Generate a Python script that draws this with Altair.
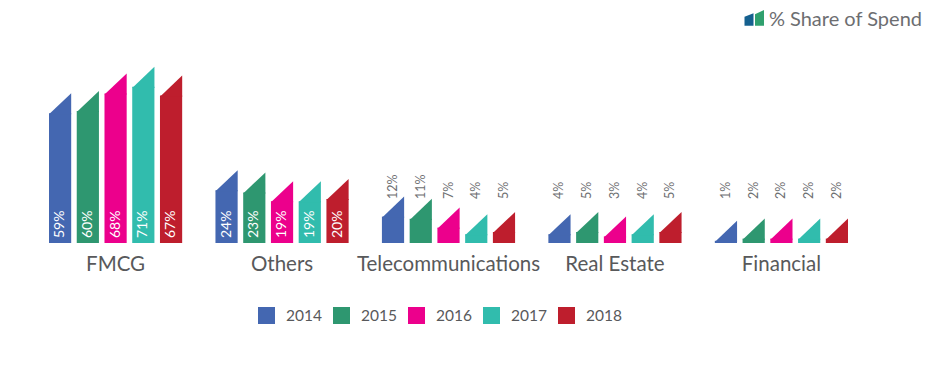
import altair as alt
import pandas as pd

categories = ["FMCG", "Others", "Telecommunications", "Real Estate", "Financial"]
years = ["2014", "2015", "2016", "2017", "2018"]
fmcg = [59, 60, 68, 71, 67]
others = [24, 23, 19, 19, 20]
telecom = [12, 11, 7, 4, 5]
real_estate = [4, 5, 3, 4, 5]
financial = [1, 2, 2, 2, 2]
colors = ["#4467B1", "#2E9770", "#EC008C", "#31BCAD", "#BE1E2D"]
title_text = "% Share of Spend"

series = [fmcg, others, telecom, real_estate, financial]
rows = []
for cat, vals in zip(categories, series):
    for yr, v in zip(years, vals):
        rows.append({"category": cat, "year": yr, "value": v, "label": f"{v}%"})
df = pd.DataFrame(rows)

FONT = "Lato"
GRAY = "#58595b"

base = alt.Chart(df).encode(
    x=alt.X("category:N", sort=categories,
            scale=alt.Scale(paddingInner=0.2, paddingOuter=0),
            axis=alt.Axis(title=None, labelAngle=0, ticks=False, domain=False,
                          labelFont=FONT, labelFontSize=20.5, labelColor=GRAY,
                          labelPadding=11, labelLimit=0, labelOverlap=False)),
    xOffset=alt.XOffset("year:N", sort=years,
                        scale=alt.Scale(paddingInner=0.2, paddingOuter=0)),
)

yenc = alt.Y("value:Q", scale=alt.Scale(domain=[0, 80]), axis=None)

bars = base.mark_bar().encode(
    y=yenc,
    color=alt.Color("year:N", sort=years,
                    scale=alt.Scale(domain=years, range=colors),
                    legend=alt.Legend(title=None, orient="none", legendX=209, legendY=240,
                                      direction="horizontal", symbolType="square",
                                      symbolSize=289, symbolStrokeWidth=0,
                                      labelFont=FONT, labelFontSize=15.5, labelColor=GRAY,
                                      labelOffset=11, columnPadding=11)),
)

tri_path = "M-1,0.1L1,0.1L1,-1.8Z"
tops = base.mark_point(shape=tri_path, size=493, filled=True, opacity=1, strokeWidth=0).encode(
    y=yenc,
    fill=alt.Fill("year:N", scale=alt.Scale(domain=years, range=colors), legend=None),
)

inside = base.transform_filter("datum.value >= 15").mark_text(
    angle=270, align="left", baseline="middle", dx=5, color="white",
    font=FONT, fontSize=14).encode(y=alt.datum(0), text="label:N")

outside = base.transform_filter("datum.value < 15").mark_text(
    angle=270, align="left", baseline="middle", dx=44, color="#6d6e71",
    font=FONT, fontSize=12.5).encode(y=alt.datum(0), text="label:N")

tdf = pd.DataFrame({"t": [title_text]})
title = alt.Chart(tdf).mark_text(align="right", baseline="middle", font=FONT,
                                 fontSize=20, color="#6d6e71").encode(
    text="t:N", x=alt.value(873), y=alt.value(-47))
icon1 = alt.Chart(tdf).mark_point(shape="M-1,1.04L1,1.04L1,-1.7L-1,-0.96Z", size=81,
                                  filled=True, opacity=1, strokeWidth=0, color="#15608f").encode(
    x=alt.value(700), y=alt.value(-46))
icon2 = alt.Chart(tdf).mark_point(shape="M-1,1.04L1,1.04L1,-2.44L-1,-1.49Z", size=81,
                                  filled=True, opacity=1, strokeWidth=0, color="#2fa06e").encode(
    x=alt.value(710.5), y=alt.value(-46))

chart = alt.layer(bars, tops, inside, outside, title, icon1, icon2).properties(
    width=799, height=176, autosize="none",
    padding={"left": 49, "top": 67, "right": 101, "bottom": 134},
    background="white",
).configure_view(stroke=None)

chart.save("out.html", embed_options={"renderer": "svg", "actions": False})
